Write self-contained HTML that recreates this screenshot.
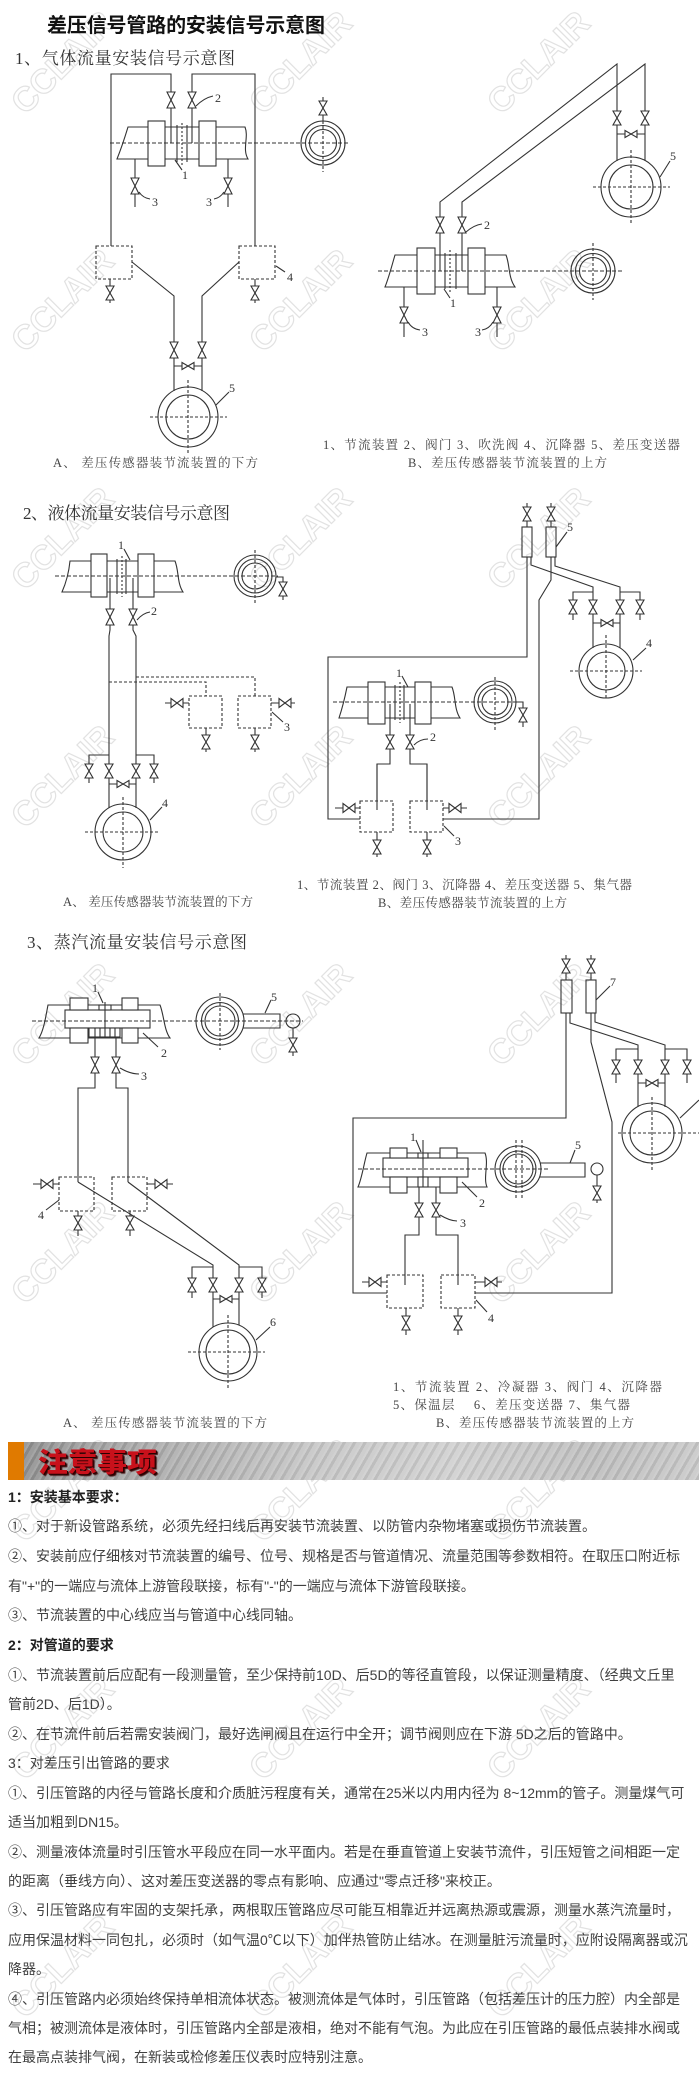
<!DOCTYPE html>
<html><head><meta charset="utf-8">
<style>
html,body{margin:0;padding:0;background:#fff;}
body{width:699px;height:2082px;position:relative;overflow:hidden;}
svg{position:absolute;left:0;top:0;}
.t{position:absolute;left:8px;white-space:nowrap;font-family:"Liberation Sans","Noto Sans CJK SC",sans-serif;font-size:14px;line-height:20px;color:#404040;}
.b{font-weight:bold;color:#222;}
.banner{position:absolute;left:8px;top:1442px;width:691px;height:38px;
background:repeating-linear-gradient(120deg,rgba(255,255,255,0.18) 0 2px,rgba(0,0,0,0.06) 2px 5px,rgba(255,255,255,0.1) 5px 9px),linear-gradient(90deg,#8c8c8c 0%,#a9a9a9 20%,#c6c6c6 45%,#cfcfcf 65%,#bdbdbd 85%,#c8c8c8 100%);}
.bar{position:absolute;left:0;top:0;width:16px;height:38px;background:#e07a00;}
.bt{position:absolute;left:30px;top:2px;font-family:"Noto Sans CJK SC",sans-serif;font-weight:900;font-size:27px;line-height:34px;color:#c8111b;text-shadow:1px 1px 0 #2a0000,2px 2px 1px #3a0a0a;transform:scaleX(1.1);transform-origin:left center;letter-spacing:0px;}
</style></head>
<body>
<svg width="699" height="2082" viewBox="0 0 699 2082" xmlns="http://www.w3.org/2000/svg">
<defs>
<path id="vv" d="M-4,-8H4L-4,8H4Z" fill="#fff" stroke="#333" stroke-width="1.1"/>
<path id="vs" d="M-4,-7H4L-4,7H4Z" fill="#fff" stroke="#333" stroke-width="1.1"/>
<path id="vh" d="M-6,-3.5V3.5L6,-3.5V3.5Z" fill="#fff" stroke="#333" stroke-width="1.1"/>
<path id="vb" d="M-6,-4.5V4.5L6,-4.5V4.5Z" fill="#fff" stroke="#333" stroke-width="1.1"/>
</defs>

<!-- watermarks -->
<g font-family="Liberation Sans, sans-serif" font-size="34" font-weight="bold" fill="none" stroke="#e2e2e2" stroke-width="1.2" text-anchor="middle">
<text x="62" y="74" transform="rotate(-45 62 62)">CCLAIR</text>
<text x="300" y="74" transform="rotate(-45 300 62)">CCLAIR</text>
<text x="538" y="74" transform="rotate(-45 538 62)">CCLAIR</text>
<text x="62" y="312" transform="rotate(-45 62 300)">CCLAIR</text>
<text x="300" y="312" transform="rotate(-45 300 300)">CCLAIR</text>
<text x="538" y="312" transform="rotate(-45 538 300)">CCLAIR</text>
<text x="62" y="550" transform="rotate(-45 62 538)">CCLAIR</text>
<text x="300" y="550" transform="rotate(-45 300 538)">CCLAIR</text>
<text x="538" y="550" transform="rotate(-45 538 538)">CCLAIR</text>
<text x="62" y="788" transform="rotate(-45 62 776)">CCLAIR</text>
<text x="300" y="788" transform="rotate(-45 300 776)">CCLAIR</text>
<text x="538" y="788" transform="rotate(-45 538 776)">CCLAIR</text>
<text x="62" y="1026" transform="rotate(-45 62 1014)">CCLAIR</text>
<text x="300" y="1026" transform="rotate(-45 300 1014)">CCLAIR</text>
<text x="538" y="1026" transform="rotate(-45 538 1014)">CCLAIR</text>
<text x="62" y="1264" transform="rotate(-45 62 1252)">CCLAIR</text>
<text x="300" y="1264" transform="rotate(-45 300 1252)">CCLAIR</text>
<text x="538" y="1264" transform="rotate(-45 538 1252)">CCLAIR</text>
<text x="62" y="1502" transform="rotate(-45 62 1490)">CCLAIR</text>
<text x="300" y="1502" transform="rotate(-45 300 1490)">CCLAIR</text>
<text x="538" y="1502" transform="rotate(-45 538 1490)">CCLAIR</text>
<text x="62" y="1740" transform="rotate(-45 62 1728)">CCLAIR</text>
<text x="300" y="1740" transform="rotate(-45 300 1728)">CCLAIR</text>
<text x="538" y="1740" transform="rotate(-45 538 1728)">CCLAIR</text>
<text x="62" y="1978" transform="rotate(-45 62 1966)">CCLAIR</text>
<text x="300" y="1978" transform="rotate(-45 300 1966)">CCLAIR</text>
<text x="538" y="1978" transform="rotate(-45 538 1966)">CCLAIR</text>
</g>

<!-- titles -->
<text x="47" y="32" font-family="Liberation Sans, Noto Sans CJK SC, sans-serif" font-weight="bold" font-size="20" fill="#111" textLength="278" lengthAdjust="spacing">差压信号管路的安装信号示意图</text>
<g font-family="Liberation Serif, Noto Serif CJK SC, serif" font-size="17" fill="#333">
<text x="15" y="64" textLength="220" lengthAdjust="spacing">1、气体流量安装信号示意图</text>
<text x="23" y="519" textLength="207" lengthAdjust="spacing">2、液体流量安装信号示意图</text>
<text x="27" y="948" textLength="220" lengthAdjust="spacing">3、蒸汽流量安装信号示意图</text>
</g>

<!-- captions -->
<g font-family="Liberation Serif, Noto Serif CJK SC, serif" font-size="12.5" fill="#444">
<text x="53" y="467" textLength="205" lengthAdjust="spacing">A、 差压传感器装节流装置的下方</text>
<text x="323" y="449" textLength="357" lengthAdjust="spacing">1、节流装置 2、阀门 3、吹洗阀 4、沉降器 5、差压变送器</text>
<text x="408" y="467" textLength="199" lengthAdjust="spacing">B、差压传感器装节流装置的上方</text>
<text x="63" y="906" textLength="190" lengthAdjust="spacing">A、 差压传感器装节流装置的下方</text>
<text x="297" y="889" textLength="335" lengthAdjust="spacing">1、节流装置 2、阀门 3、沉降器 4、差压变送器 5、集气器</text>
<text x="378" y="907" textLength="189" lengthAdjust="spacing">B、差压传感器装节流装置的上方</text>
<text x="63" y="1427" textLength="204" lengthAdjust="spacing">A、 差压传感器装节流装置的下方</text>
<text x="393" y="1391" textLength="269" lengthAdjust="spacing">1、节流装置 2、冷凝器 3、阀门 4、沉降器</text>
<text x="393" y="1409" textLength="237" lengthAdjust="spacing">5、保温层　 6、差压变送器 7、集气器</text>
<text x="436" y="1427" textLength="198" lengthAdjust="spacing">B、差压传感器装节流装置的上方</text>
</g>

<!-- number labels -->
<g font-family="Liberation Serif, serif" font-size="12" fill="#333" text-anchor="middle">
<text x="218" y="102">2</text><text x="185" y="179">1</text><text x="155" y="206">3</text><text x="209" y="206">3</text><text x="290" y="281">4</text><text x="232" y="392">5</text>
<text x="487" y="229">2</text><text x="673" y="160">5</text><text x="453" y="307">1</text><text x="425" y="336">3</text><text x="478" y="336">3</text>
<text x="121" y="549">1</text><text x="154" y="615">2</text><text x="287" y="731">3</text><text x="165" y="807">4</text>
<text x="399" y="677">1</text><text x="433" y="741">2</text><text x="458" y="845">3</text><text x="649" y="647">4</text><text x="570" y="531">5</text>
<text x="95" y="992">1</text><text x="164" y="1057">2</text><text x="144" y="1080">3</text><text x="41" y="1219">4</text><text x="274" y="1001">5</text><text x="273" y="1326">6</text>
<text x="413" y="1141">1</text><text x="482" y="1207">2</text><text x="463" y="1227">3</text><text x="491" y="1322">4</text><text x="578" y="1149">5</text><text x="613" y="986">7</text>
</g>

<g fill="none" stroke="#333" stroke-width="1.1">
<!-- leaders -->
<path d="M196,106 Q204,98 213,96 M175,160 L182,170 M139,192 Q143,198 150,199 M224,192 Q220,198 214,199 M276,266 L285,272 M216,405 L229,392"/>
<path d="M466,232 Q474,225 482,224 M660,177 L670,161 M444,289 L450,298 M408,322 Q412,329 420,330 M493,322 Q489,329 482,330"/>
<path d="M124,549 L130,560 M137,620 Q143,613 150,612 M272,712 L283,722 M150,820 L162,807"/>
<path d="M402,676 L408,687 M414,745 Q420,739 428,739 M444,826 L454,836 M633,660 L646,648 M556,547 L567,532"/>
<path d="M98,992 L103,1003 M143,1033 L158,1047 M120,1068 Q130,1074 139,1074 M59,1200 L46,1210 M265,1013 L271,1000 M256,1340 L270,1327"/>
<path d="M416,1140 L421,1152 M462,1182 L477,1197 M440,1215 Q450,1221 457,1221 M476,1300 L487,1312 M570,1163 L575,1150 M596,1000 L610,986 M680,1118 L699,1100"/>

<!-- ===== Diagram 1A ===== -->
<path d="M128,127 H245 C249,137 242,149 248,159 H117 C121,149 125,137 128,127 Z"/>
<path d="M177,125 V162 M187,125 V162"/>
<path d="M182,123 V167" stroke-dasharray="2 2"/>
<rect x="148" y="121" width="17" height="45" fill="#fff"/>
<rect x="199" y="121" width="17" height="45" fill="#fff"/>
<path d="M110,143 H350" stroke-dasharray="4 2"/>
<path d="M171,143 V74 H111 V246 M192,143 V74 H255 V246"/>
<circle cx="323" cy="143" r="22"/><circle cx="323" cy="143" r="17.5"/><circle cx="323" cy="143" r="13.5"/>
<path d="M323,97 V121"/>
<path d="M323,121 V172" stroke-dasharray="3 2"/>
<path d="M135,159 V207 M228,159 V207"/>
<rect x="96" y="246" width="36" height="33" stroke-dasharray="3 2"/>
<rect x="239" y="246" width="36" height="33" stroke-dasharray="3 2"/>
<path d="M110,279 V303 M255,279 V303"/>
<path d="M132,262 L174,296 V391 M239,262 L202,296 V391 M174,366 H202"/>
<circle cx="188" cy="417" r="30"/><circle cx="188" cy="417" r="22"/>
<path d="M150,417 H227 M188,380 V455" stroke-dasharray="3 2"/>

<!-- ===== Diagram 1B ===== -->
<path d="M395,255 H506 C510,265 508,277 515,287 H385 C389,277 392,265 395,255 Z"/>
<path d="M445,253 V289 M456,253 V289"/>
<path d="M450,250 V293" stroke-dasharray="2 2"/>
<rect x="417" y="248" width="18" height="46" fill="#fff"/>
<rect x="468" y="248" width="17" height="46" fill="#fff"/>
<path d="M378,271 H623" stroke-dasharray="4 2"/>
<circle cx="593" cy="271" r="22"/><circle cx="593" cy="271" r="17.5"/><circle cx="593" cy="271" r="13.5"/>
<path d="M593,243 V300" stroke-dasharray="3 2"/>
<path d="M440,271 V202 L617,64 V161 M462,271 V202 L645,64 V161 M617,134 H645"/>
<circle cx="631" cy="187" r="30"/><circle cx="631" cy="187" r="22"/>
<path d="M593,187 H670 M631,150 V225" stroke-dasharray="3 2"/>
<path d="M404,287 V337 M497,287 V337"/>

<!-- ===== Diagram 2A ===== -->
<path d="M70,561 H175 C179,571 177,583 183,592 H62 C66,583 69,571 70,561 Z"/>
<path d="M117,559 V594 M126,559 V594"/>
<path d="M122,556 V597" stroke-dasharray="2 2"/>
<rect x="91" y="554" width="16" height="43" fill="#fff"/>
<rect x="138" y="554" width="16" height="43" fill="#fff"/>
<path d="M55,576 H278" stroke-dasharray="4 2"/>
<circle cx="255" cy="576" r="21"/><circle cx="255" cy="576" r="17"/><circle cx="255" cy="576" r="13"/>
<path d="M255,550 V605" stroke-dasharray="3 2"/>
<path d="M276,577 H283 V600"/>
<path d="M110,578 V630 L109,636 V808 M133,578 V630 L136,636 V808"/>
<path d="M136,677 H255 V696 M109,682 H206 V696" stroke-dasharray="3 2"/>
<rect x="189" y="696" width="33" height="32" stroke-dasharray="3 2"/>
<rect x="238" y="696" width="33" height="32" stroke-dasharray="3 2"/>
<path d="M189,703 H165 M271,703 H295 M206,728 V752 M255,728 V752"/>
<path d="M109,755 H89 V783 M136,755 H154 V783 M109,784 H136"/>
<circle cx="123" cy="832" r="28"/><circle cx="123" cy="832" r="20"/>
<path d="M85,832 H160 M123,797 V868" stroke-dasharray="3 2"/>

<!-- ===== Diagram 2B ===== -->
<path d="M527,557 V657 H328 V819 H360 M443,819 H539 V600 L551,580 V557"/>
<rect x="522" y="527" width="10" height="30"/>
<rect x="546" y="527" width="10" height="30"/>
<path d="M527,503 V527 M551,503 V527"/>
<path d="M531,557 V565 L593,587 V648 M555,557 V566 L620,587 V648"/>
<path d="M593,592 H573 V620 M620,592 H640 V620 M593,623 H620"/>
<circle cx="606" cy="671" r="27"/><circle cx="606" cy="671" r="19"/>
<path d="M570,671 H642 M606,635 V700" stroke-dasharray="3 2"/>
<path d="M347,687 H452 C456,697 454,709 460,718 H339 C342,709 345,697 347,687 Z"/>
<path d="M395,685 V720 M404,685 V720"/>
<path d="M400,682 V723" stroke-dasharray="2 2"/>
<rect x="368" y="682" width="17" height="42" fill="#fff"/>
<rect x="415" y="682" width="16" height="42" fill="#fff"/>
<path d="M333,702 H517" stroke-dasharray="4 2"/>
<circle cx="495" cy="702" r="21"/><circle cx="495" cy="702" r="17"/><circle cx="495" cy="702" r="13"/>
<path d="M495,677 V730" stroke-dasharray="3 2"/>
<path d="M516,702 H523 V727"/>
<path d="M390,704 V764 H377 V810 M410,704 V764 H427 V810"/>
<rect x="360" y="801" width="33" height="31" fill="#fff" stroke-dasharray="3 2"/>
<rect x="410" y="801" width="33" height="31" fill="#fff" stroke-dasharray="3 2"/>
<path d="M377,764 V810 M427,764 V810"/>
<path d="M360,808 H335 M443,808 H467 M377,832 V857 M427,832 V857"/>

<!-- ===== Diagram 3A ===== -->
<path d="M48,1005 H160 C164,1015 164,1030 170,1038 H39 C44,1030 46,1015 48,1005 Z"/>
<rect x="65" y="1010" width="85" height="18" fill="#fff"/>
<rect x="70" y="998" width="18" height="12" fill="#fff"/>
<rect x="122" y="998" width="16" height="12" fill="#fff"/>
<rect x="70" y="1028" width="18" height="15" fill="#fff"/>
<rect x="122" y="1028" width="16" height="15" fill="#fff"/>
<rect x="99" y="1005" width="12" height="5" fill="#fff"/>
<rect x="89" y="1028" width="31" height="9" fill="#fff"/>
<path d="M95,1028 V1037 M100,1028 V1037 M110,1028 V1037 M115,1028 V1037 M105,1002 V1037"/>
<path d="M32,1021 H303" stroke-dasharray="4 2"/>
<circle cx="220" cy="1021" r="24"/><circle cx="220" cy="1021" r="18.5"/><circle cx="220" cy="1021" r="15"/>
<path d="M243,1014 H280 V1028 H243"/>
<path d="M220,993 V1050" stroke-dasharray="3 2"/>
<circle cx="293" cy="1021" r="7"/>
<path d="M293,1028 V1056"/>
<path d="M95,1038 V1088 H78 V1182 M116,1038 V1088 H128 V1182"/>
<rect x="59" y="1177" width="35" height="34" stroke-dasharray="3 2"/>
<rect x="112" y="1177" width="35" height="34" stroke-dasharray="3 2"/>
<path d="M78,1182 L213,1265 V1327 M128,1182 L239,1265 V1325"/>
<path d="M213,1267 H192 V1298 M239,1267 H262 V1298 M213,1299 H239"/>
<circle cx="228" cy="1352" r="29"/><circle cx="228" cy="1352" r="22"/>
<path d="M188,1352 H265 M228,1315 V1390" stroke-dasharray="3 2"/>
<path d="M59,1184 H33 M147,1184 H173 M78,1211 V1236 M130,1211 V1236"/>

<!-- ===== Diagram 3B ===== -->
<rect x="561" y="980" width="11" height="33"/>
<rect x="586" y="980" width="10" height="33"/>
<path d="M566,955 V980 M591,955 V980"/>
<path d="M566,1013 V1118 H353 V1293 H387 M591,1013 V1042 L612,1122 V1293 H475"/>
<path d="M570,1013 V1023 L638,1045 V1107 M595,1013 V1022 L665,1045 V1107"/>
<path d="M638,1049 H616 V1083 M665,1049 H687 V1083 M638,1083 H665"/>
<circle cx="652" cy="1133" r="30"/><circle cx="652" cy="1133" r="22"/>
<path d="M618,1133 H699 M652,1097 V1172" stroke-dasharray="3 2"/>
<path d="M367,1153 H485 C489,1163 483,1178 487,1187 H358 C362,1178 364,1163 367,1153 Z"/>
<rect x="383" y="1158" width="85" height="19" fill="#fff"/>
<rect x="390" y="1148" width="17" height="10" fill="#fff"/>
<rect x="440" y="1148" width="17" height="10" fill="#fff"/>
<rect x="390" y="1177" width="17" height="16" fill="#fff"/>
<rect x="440" y="1177" width="17" height="16" fill="#fff"/>
<rect x="418" y="1153" width="10" height="5" fill="#fff"/>
<rect x="418" y="1177" width="10" height="10" fill="#fff"/>
<path d="M423,1140 V1187"/>
<path d="M358,1169 H550" stroke-dasharray="4 2"/>
<circle cx="518" cy="1169" r="23"/><circle cx="518" cy="1169" r="18"/><circle cx="518" cy="1169" r="15"/>
<path d="M540,1163 H585 V1177 H540"/>
<path d="M516,1140 V1200 M522,1140 V1200" stroke-dasharray="3 2"/>
<circle cx="597" cy="1169" r="6"/>
<path d="M597,1175 V1203"/>
<path d="M419,1187 V1235 H405 V1285 M436,1187 V1235 H458 V1285"/>
<rect x="387" y="1275" width="36" height="33" stroke-dasharray="3 2"/>
<rect x="441" y="1275" width="34" height="33" stroke-dasharray="3 2"/>
<path d="M387,1282 H362 M475,1282 H502 M406,1308 V1335 M458,1308 V1335"/>
</g>

<!-- valves -->
<use href="#vv" x="171" y="100"/><use href="#vv" x="192" y="100"/><use href="#vs" x="323" y="108"/>
<use href="#vv" x="135" y="186"/><use href="#vv" x="228" y="186"/>
<use href="#vs" x="110" y="293"/><use href="#vs" x="255" y="293"/>
<use href="#vv" x="174" y="350"/><use href="#vv" x="202" y="350"/><use href="#vh" x="188" y="366"/>

<use href="#vv" x="440" y="225"/><use href="#vv" x="462" y="225"/>
<use href="#vs" x="617" y="118"/><use href="#vs" x="645" y="118"/><use href="#vh" x="631" y="134"/>
<use href="#vv" x="404" y="315"/><use href="#vv" x="497" y="315"/>

<use href="#vv" x="110" y="617"/><use href="#vv" x="133" y="617"/><use href="#vs" x="283" y="589"/>
<use href="#vb" x="177" y="703"/><use href="#vb" x="285" y="703"/>
<use href="#vs" x="206" y="742"/><use href="#vs" x="255" y="742"/>
<use href="#vs" x="89" y="771"/><use href="#vs" x="109" y="771"/><use href="#vs" x="136" y="771"/><use href="#vs" x="154" y="771"/>
<use href="#vh" x="123" y="784"/>

<use href="#vs" x="527" y="514"/><use href="#vs" x="551" y="514"/>
<use href="#vs" x="573" y="607"/><use href="#vs" x="593" y="607"/><use href="#vs" x="620" y="607"/><use href="#vs" x="640" y="607"/>
<use href="#vh" x="607" y="623"/>
<use href="#vs" x="523" y="715"/>
<use href="#vs" x="390" y="742"/><use href="#vs" x="410" y="742"/>
<use href="#vb" x="349" y="808"/><use href="#vb" x="455" y="808"/>
<use href="#vs" x="377" y="847"/><use href="#vs" x="427" y="847"/>

<use href="#vs" x="293" y="1045"/>
<use href="#vv" x="95" y="1065"/><use href="#vv" x="116" y="1065"/>
<use href="#vb" x="47" y="1184"/><use href="#vb" x="161" y="1184"/>
<use href="#vs" x="78" y="1223"/><use href="#vs" x="130" y="1223"/>
<use href="#vs" x="192" y="1285"/><use href="#vs" x="213" y="1285"/><use href="#vs" x="239" y="1285"/><use href="#vs" x="262" y="1285"/>
<use href="#vh" x="226" y="1299"/>

<use href="#vs" x="566" y="966"/><use href="#vs" x="591" y="966"/>
<use href="#vs" x="616" y="1067"/><use href="#vs" x="638" y="1067"/><use href="#vs" x="665" y="1067"/><use href="#vs" x="687" y="1067"/>
<use href="#vh" x="652" y="1083"/>
<use href="#vs" x="597" y="1193"/>
<use href="#vs" x="419" y="1210"/><use href="#vs" x="436" y="1210"/>
<use href="#vb" x="375" y="1282"/><use href="#vb" x="491" y="1282"/>
<use href="#vs" x="406" y="1323"/><use href="#vs" x="458" y="1323"/>
</svg>

<div class="banner"><div class="bar"></div><div class="bt">注意事项</div></div>

<div class="t b" style="top:1487px">1：安装基本要求：</div>
<div class="t" style="top:1516px">①、对于新设管路系统，必须先经扫线后再安装节流装置、以防管内杂物堵塞或损伤节流装置。</div>
<div class="t" style="top:1546px">②、安装前应仔细核对节流装置的编号、位号、规格是否与管道情况、流量范围等参数相符。在取压口附近标</div>
<div class="t" style="top:1576px">有"+"的一端应与流体上游管段联接，标有"-"的一端应与流体下游管段联接。</div>
<div class="t" style="top:1605px">③、节流装置的中心线应当与管道中心线同轴。</div>
<div class="t b" style="top:1635px">2：对管道的要求</div>
<div class="t" style="top:1665px">①、节流装置前后应配有一段测量管，至少保持前10D、后5D的等径直管段，以保证测量精度、（经典文丘里</div>
<div class="t" style="top:1694px">管前2D、后1D）。</div>
<div class="t" style="top:1724px">②、在节流件前后若需安装阀门，最好选闸阀且在运行中全开；调节阀则应在下游 5D之后的管路中。</div>
<div class="t" style="top:1753px">3：对差压引出管路的要求</div>
<div class="t" style="top:1783px">①、引压管路的内径与管路长度和介质脏污程度有关，通常在25米以内用内径为 8~12mm的管子。测量煤气可</div>
<div class="t" style="top:1812px">适当加粗到DN15。</div>
<div class="t" style="top:1842px">②、测量液体流量时引压管水平段应在同一水平面内。若是在垂直管道上安装节流件，引压短管之间相距一定</div>
<div class="t" style="top:1871px">的距离（垂线方向）、这对差压变送器的零点有影响、应通过"零点迁移"来校正。</div>
<div class="t" style="top:1900px">③、引压管路应有牢固的支架托承，两根取压管路应尽可能互相靠近并远离热源或震源，测量水蒸汽流量时，</div>
<div class="t" style="top:1930px">应用保温材料一同包扎，必须时（如气温0℃以下）加伴热管防止结冰。在测量脏污流量时，应附设隔离器或沉</div>
<div class="t" style="top:1959px">降器。</div>
<div class="t" style="top:1989px">④、引压管路内必须始终保持单相流体状态。被测流体是气体时，引压管路（包括差压计的压力腔）内全部是</div>
<div class="t" style="top:2018px">气相；被测流体是液体时，引压管路内全部是液相，绝对不能有气泡。为此应在引压管路的最低点装排水阀或</div>
<div class="t" style="top:2047px">在最高点装排气阀，在新装或检修差压仪表时应特别注意。</div>
</body></html>
